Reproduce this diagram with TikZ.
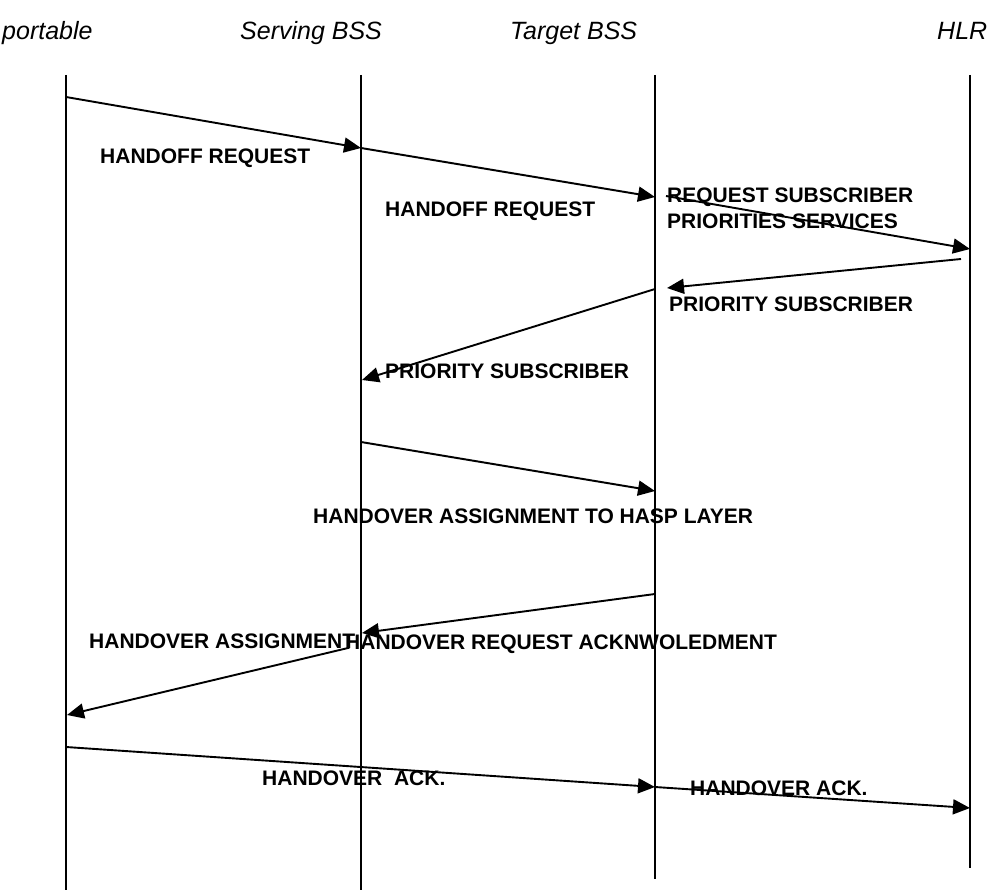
\documentclass[tikz,border=0pt]{standalone}
\usepackage{fontspec}
\setmainfont{Liberation Sans}
\usetikzlibrary{arrows.meta}

\begin{document}
\begin{tikzpicture}[x=1pt,y=-1pt]
\tikzset{actor/.style = {anchor=base west,inner sep=0pt,font=\fontsize{25}{30}\selectfont\itshape}}
\tikzset{msg/.style = {anchor=base west,inner sep=0pt,font=\fontsize{21}{25}\selectfont\bfseries}}
\tikzset{life/.style = {line width=1.4pt}}
\tikzset{edge/.style = {line width=1.9pt,-{Triangle[length=17pt,width=15pt]}}}
\useasboundingbox (0,0) rectangle (992,890);
% actors
\node[actor] (portable) at (2,40)   {portable};
\node[actor] (serving)  at (240,40) {Serving BSS};
\node[actor] (target)   at (510,40) {Target BSS};
\node[actor] (hlr)      at (937,40) {HLR};
% lifelines
\coordinate (pT) at (66,75);  \coordinate (pB) at (66,890);
\coordinate (sT) at (361,75); \coordinate (sB) at (361,890);
\coordinate (tT) at (655,75); \coordinate (tB) at (655,879);
\coordinate (hT) at (970,75); \coordinate (hB) at (970,868);
\draw[life] (pT) -- (pB);
\draw[life] (sT) -- (sB);
\draw[life] (tT) -- (tB);
\draw[life] (hT) -- (hB);
% message points
\coordinate (p1) at (66,97);   \coordinate (s1) at (361,148);
\coordinate (t1) at (655,197);
\coordinate (t2) at (666,196); \coordinate (h2) at (970,249);
\coordinate (h3) at (961,259); \coordinate (t3) at (667,288);
\coordinate (t4) at (655,289); \coordinate (s4) at (362,380);
\coordinate (s5) at (361,442); \coordinate (t5) at (655,491);
\coordinate (t6) at (655,594); \coordinate (s6) at (362,633);
\coordinate (s7) at (348,648); \coordinate (p7) at (67,715);
\coordinate (p8) at (66,747);  \coordinate (t8) at (655,787);
\coordinate (h8) at (970,808);
% messages
\draw[edge] (p1) to (s1);
\draw[edge] (s1) to (t1);
\draw[edge] (t2) to (h2);
\draw[edge] (h3) to (t3);
\draw[edge] (t4) to (s4);
\draw[edge] (s5) to (t5);
\draw[edge] (t6) to (s6);
\draw[edge] (s7) to (p7);
\draw[edge] (p8) to (t8);
\draw[edge] (t8) to (h8);
% labels
\node[msg] (req1)  at (100,164) {HANDOFF REQUEST};
\node[msg] (req2)  at (385,217) {HANDOFF REQUEST};
\node[msg] (subA)  at (667,203) {REQUEST SUBSCRIBER};
\node[msg] (subB)  at (667,229) {PRIORITIES SERVICES};
\node[msg] (prio1) at (669,311) {PRIORITY SUBSCRIBER};
\node[msg] (prio2) at (385,378) {PRIORITY SUBSCRIBER};
\node[msg] (hasp)  at (313,523) {HANDOVER ASSIGNMENT TO HASP LAYER};
\node[msg] (rack)  at (345,649) {HANDOVER REQUEST ACKNWOLEDMENT};
\node[msg] (asgn)  at (89,648)  {HANDOVER ASSIGNMENT};
\node[msg] (ack1)  at (262,785) {HANDOVER\ \ ACK.};
\node[msg] (ack2)  at (690,795) {HANDOVER ACK.};
\end{tikzpicture}
\end{document}
